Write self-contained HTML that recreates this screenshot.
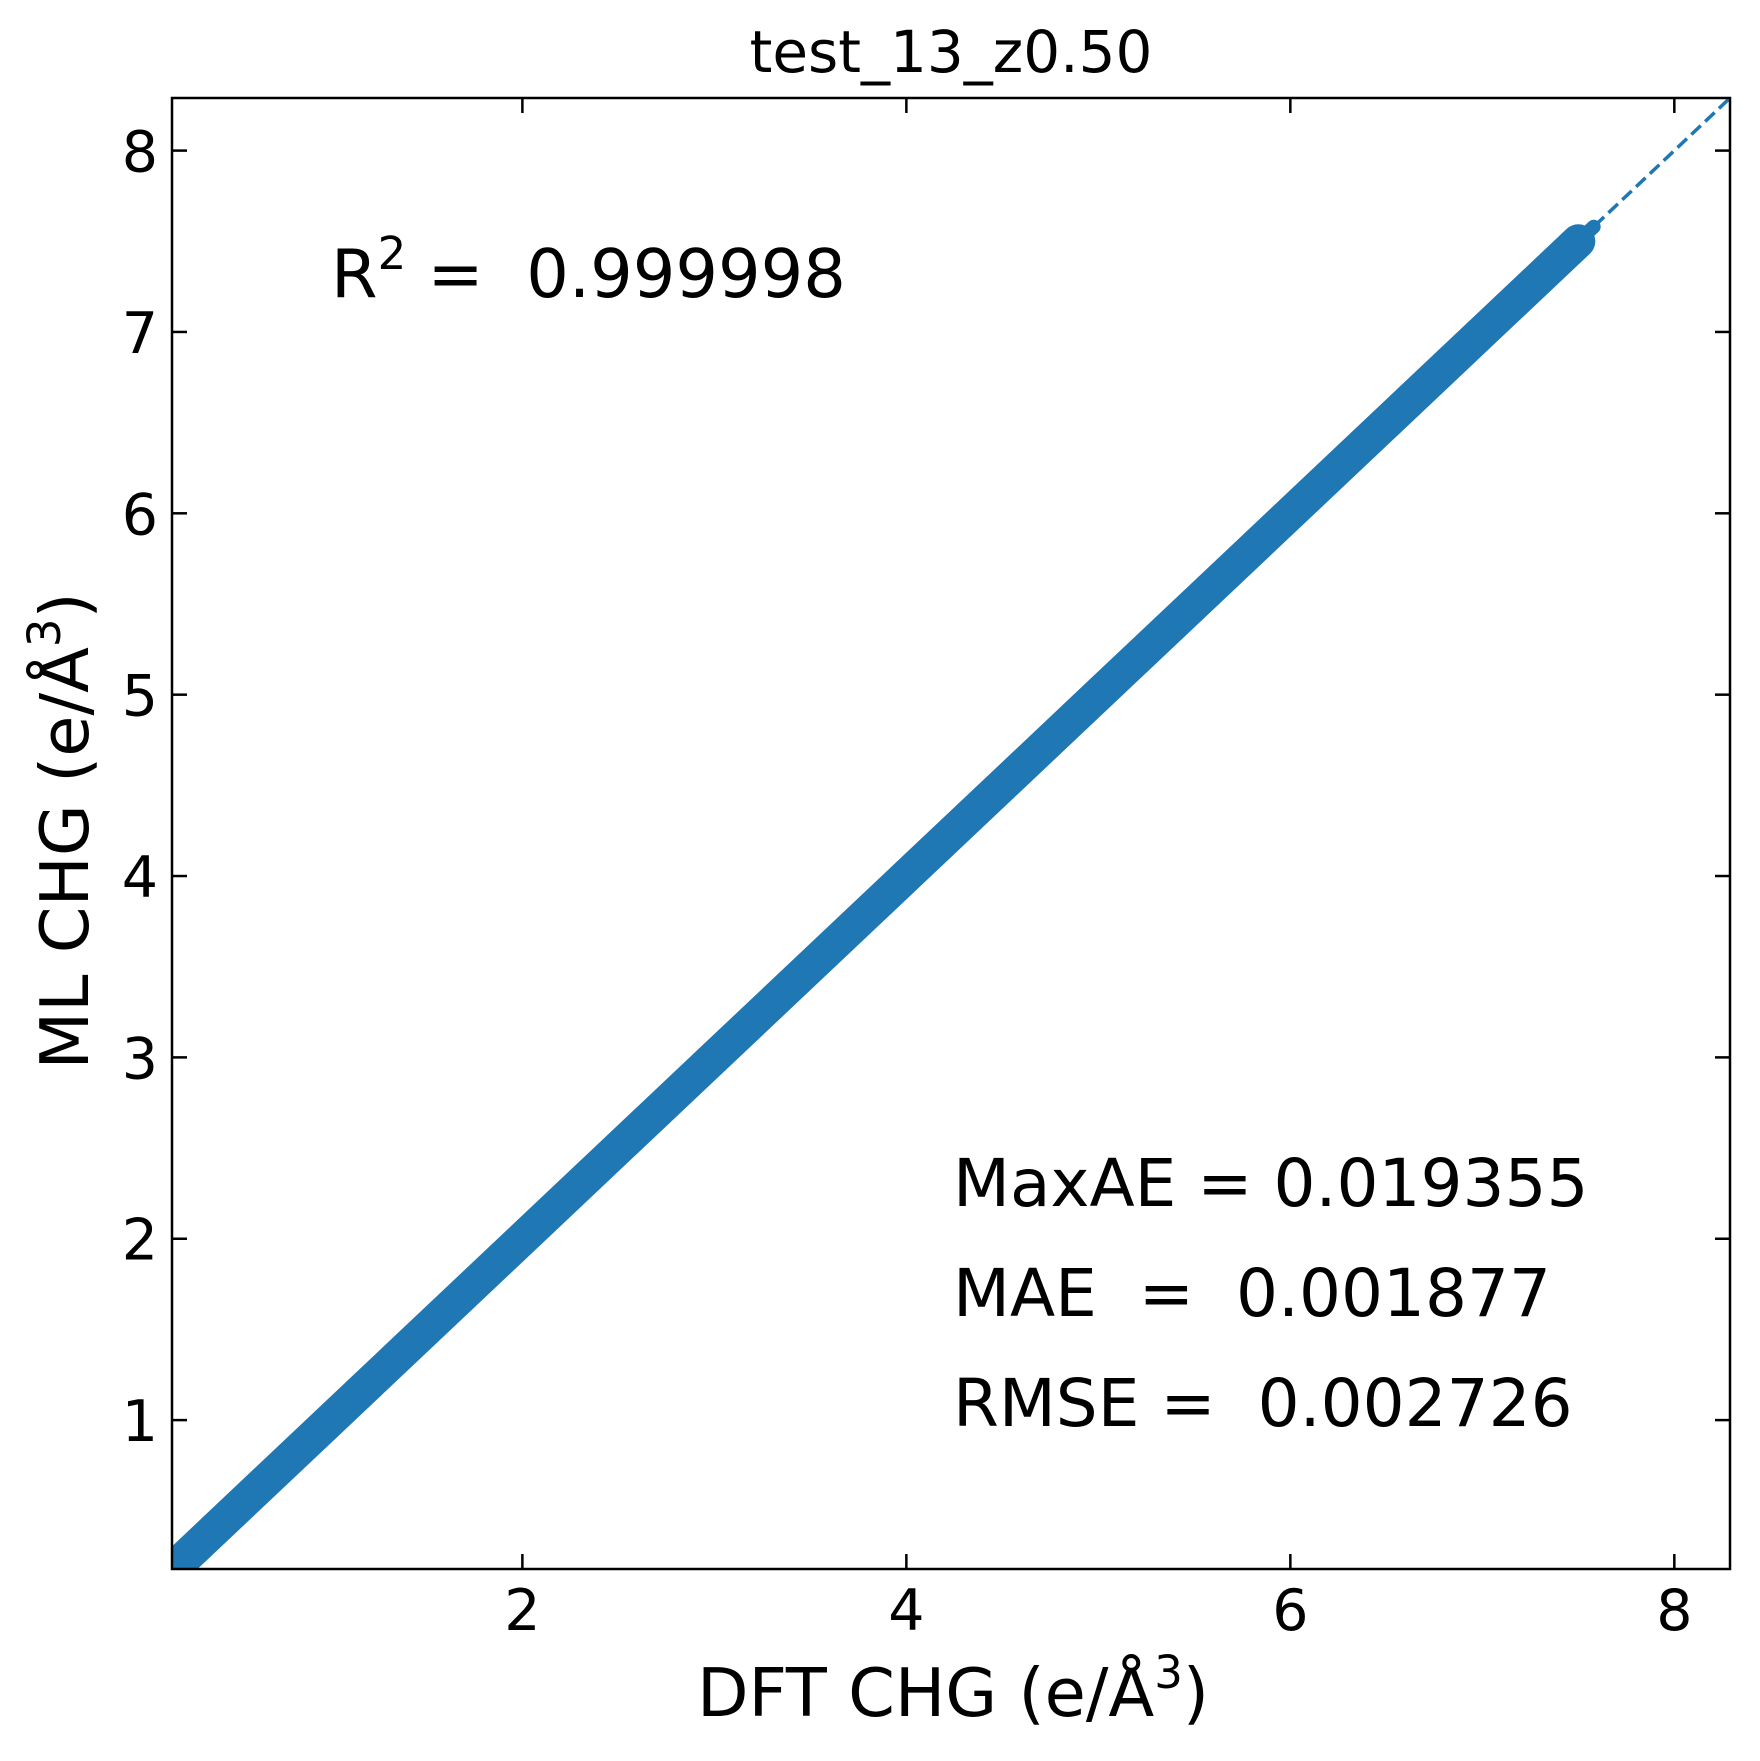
<!DOCTYPE html>
<html><head><meta charset="utf-8"><style>
html,body{margin:0;padding:0;background:#fff;}
svg{display:block;font-family:"DejaVu Sans","Liberation Sans",sans-serif;}
text{white-space:pre;}
</style></head><body>
<svg id="chart" width="1760" height="1761" viewBox="0 0 1760 1761" xml:space="preserve">
<rect width="1760" height="1761" fill="#fff"/>
<g id="plot"></g>
<text x="951" y="72" font-size="58" text-anchor="middle">test_13_z0.50</text>
<text x="331" y="297" font-size="67">R<tspan dy="-28" font-size="45">2</tspan><tspan dy="28"> =  0.999998</tspan></text>
<text x="953" y="1206" font-size="66">MaxAE = 0.019355</text>
<text x="953" y="1316" font-size="66">MAE  =  0.001877</text>
<text x="953" y="1426" font-size="66">RMSE =  0.002726</text>
<text x="953" y="1716" font-size="67" text-anchor="middle">DFT CHG (e/Å<tspan dy="-28" font-size="45">3</tspan><tspan dy="28">)</tspan></text>
<text transform="translate(88,831) rotate(-90)" font-size="67" text-anchor="middle">ML CHG (e/Å<tspan dy="-28" font-size="45">3</tspan><tspan dy="28">)</tspan></text>
</svg>
<script>
const dftValues = [0.15, 1.0, 2.0, 3.0, 4.0, 5.0, 6.0, 7.0, 7.5];
const mlValues  = [0.15, 1.0, 2.0, 3.0, 4.0, 5.0, 6.0, 7.0, 7.5];
const xTicks = [2, 4, 6, 8];
const yTicks = [1, 2, 3, 4, 5, 6, 7, 8];
const xDomain = [0.175, 8.29];
const yDomain = [0.179, 8.29];

const L = 172, R = 1730, T = 98, B = 1569;
const sx = v => L + (v - xDomain[0]) / (xDomain[1] - xDomain[0]) * (R - L);
const sy = v => B - (v - yDomain[0]) / (yDomain[1] - yDomain[0]) * (B - T);
const NS = "http://www.w3.org/2000/svg";
const svg = document.getElementById('chart');
const plot = document.getElementById('plot');
function mk(tag, attrs, parent) {
  const e = document.createElementNS(NS, tag);
  for (const k in attrs) e.setAttribute(k, attrs[k]);
  (parent || plot).appendChild(e);
  return e;
}
const defs = mk('defs', {}, svg);
const cp = mk('clipPath', {id: 'clip'}, defs);
mk('rect', {x: L, y: T, width: R - L, height: B - T}, cp);
const g = mk('g', {'clip-path': 'url(#clip)'});



const pts = dftValues.map((d, i) => sx(d) + ',' + sy(mlValues[i])).join(' ');
const band = mk('polyline', {points: pts, fill: 'none', stroke: '#1f77b4', 'stroke-width': 34, 'stroke-linejoin': 'round', 'stroke-linecap': 'round'}, g);


const last = dftValues.length - 1;
const tail = mk('line', {x1: sx(dftValues[last]), y1: sy(mlValues[last]), x2: sx(dftValues[last] + 0.08), y2: sy(mlValues[last] + 0.08), stroke: '#1f77b4', 'stroke-width': 14, 'stroke-linecap': 'round'}, g);



const idl = mk('line', {x1: sx(xDomain[0]), y1: sy(xDomain[0]), x2: sx(8.29), y2: sy(8.29), stroke: '#1f77b4', 'stroke-width': 3.5, 'stroke-dasharray': '13 6'}, g);



const frame = mk('rect', {x: L, y: T, width: R - L, height: B - T, fill: 'none', stroke: '#000', 'stroke-width': 2.5});



const tl = 15;
xTicks.forEach(v => {
  const x = sx(v);
  const t1 = mk('line', {x1: x, y1: B, x2: x, y2: B - tl, stroke: '#000', 'stroke-width': 2.5});
  
  
  const t2 = mk('line', {x1: x, y1: T, x2: x, y2: T + tl, stroke: '#000', 'stroke-width': 2.5});
  
  
  const lb = mk('text', {x: x, y: B + 61, 'font-size': 57, 'text-anchor': 'middle'});
  lb.textContent = v;
  
  
});
yTicks.forEach(v => {
  const y = sy(v);
  const t1 = mk('line', {x1: L, y1: y, x2: L + tl, y2: y, stroke: '#000', 'stroke-width': 2.5});
  
  
  const t2 = mk('line', {x1: R, y1: y, x2: R - tl, y2: y, stroke: '#000', 'stroke-width': 2.5});
  
  
  const lb = mk('text', {x: L - 14, y: y + 21, 'font-size': 57, 'text-anchor': 'end'});
  lb.textContent = v;
  
  
});
</script>
</body></html>
